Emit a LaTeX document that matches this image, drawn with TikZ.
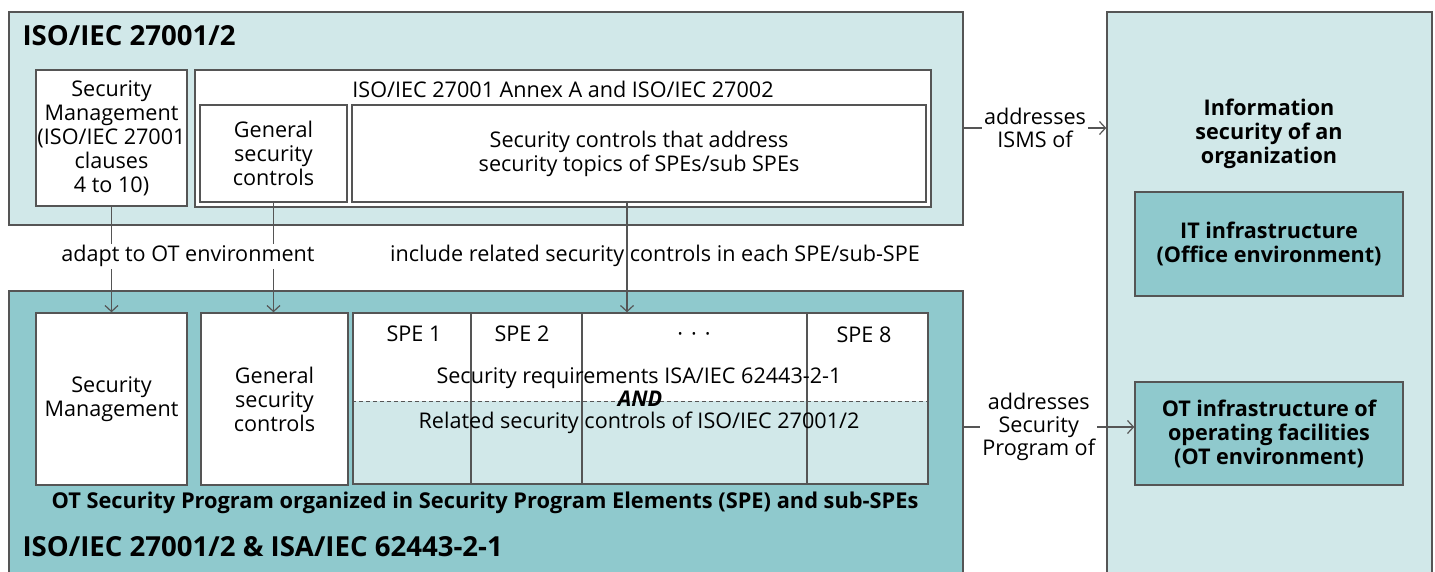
\documentclass[tikz,border=0pt]{standalone}
\usepackage{fontspec}
\setmainfont{Open Sans}
\usetikzlibrary{arrows.meta, fit, positioning}

\definecolor{tealLight}{HTML}{D1E8E9}
\definecolor{tealDark}{HTML}{8FC9CD}
\definecolor{edgeGray}{HTML}{555555}

\begin{document}
\begin{tikzpicture}[
            x = 0.5pt, y = -0.5pt, % one unit = one pixel of the layout
            > = {Straight Barb[length=3pt,width=6.5pt]}, % arrow head style
            semithick % line style
        ]

        \tikzstyle{frame}=[
            draw = edgeGray,
            line width = 0.7pt,
            inner sep = 0pt
        ]
        \tikzstyle{box}=[frame, fill = white]
        \tikzstyle{infra}=[frame, fill = tealDark]
        \tikzstyle{boxtext}=[align = center, inner sep = 0pt, font = \fontsize{10.8}{12}\selectfont]
        \tikzstyle{infratext}=[align = center, inner sep = 0pt, font = \bfseries\fontsize{10.8}{12}\selectfont]
        \tikzstyle{title}=[anchor = base west, inner sep = 0pt, font = \bfseries\fontsize{13.8}{16}\selectfont]
        \tikzstyle{txt}=[align = center, inner sep = 1pt, font = \fontsize{10.8}{11.4}\selectfont]
        \tikzstyle{arr}=[->, draw = edgeGray, line width = 0.6pt]

	\clip (0,0) rectangle (1435,572);

	% ISO/IEC 27001/2
	\node[frame, fill = tealLight, fit = {(9,12) (963,225)}] (iso) {};
	\node[title] (isotitle) at (22,46) {ISO/IEC 27001/2};
	\node[box, fit = {(36,70) (187,206)},
	      label = {[boxtext]center:Security\\Management\\(ISO/IEC 27001\\clauses\\4 to 10)}] (smtop) {};
	\node[box, fit = {(195,70) (931,207)}] (annex) {};
	\node[txt, anchor = base] (annextitle) at (563,98) {ISO/IEC 27001 Annex A and ISO/IEC 27002};
	\node[box, fit = {(200,105) (347,202)},
	      label = {[boxtext]center:General\\security\\controls}] (gsctop) {};
	\node[box, fit = {(352,105) (926,202)},
	      label = {[boxtext]center:Security controls that address\\security topics of SPEs/sub SPEs}] (secctl) {};

	% ISO/IEC 27001/2 & ISA/IEC 62443-2-1
	\node[frame, fill = tealDark, fit = {(9,291) (963,600)}] (ot) {};
	\node[box, fit = {(36,313) (187,485)},
	      label = {[boxtext]center:Security\\Management}] (smbot) {};
	\node[box, fit = {(201,313) (348,485)},
	      label = {[boxtext]center:General\\security\\controls}] (gscbot) {};
	\node[box, fit = {(353,313) (928,484)},
	      path picture = {\fill[tealLight] ([yshift=-1.25pt]path picture bounding box.west) rectangle (path picture bounding box.south east);}] (spe) {};
	\draw[edgeGray, line width = 0.5pt, dash pattern = on 2pt off 1.5pt] (spe.west |- 0,401) -- (spe.east |- 0,401);
	\foreach \x in {471,582,807}
	    \draw[edgeGray, line width = 0.6pt] (\x,0 |- spe.north) -- (\x,0 |- spe.south);
	\node[txt, anchor = base] (spe1) at (414,342) {SPE 1};
	\node[txt, anchor = base] (spe2) at (522,342) {SPE 2};
	\node[txt, anchor = base] (spedots) at (694,342) {·\hspace{4pt}·\hspace{4pt}·};
	\node[txt, anchor = base] (spe8) at (864,343) {SPE 8};
	\node[txt, anchor = base] (req) at (639,383) {Security requirements ISA/IEC 62443-2-1};
	\node[txt, anchor = base, font = \bfseries\itshape\fontsize{10.8}{12}\selectfont] (and) at (640,406) {AND};
	\node[txt, anchor = base] (rel) at (639,428) {Related security controls of ISO/IEC 27001/2};
	\node[anchor = base, inner sep = 0pt, font = \bfseries\fontsize{10.9}{12}\selectfont] (otprog) at (485,508) {OT Security Program organized in Security Program Elements (SPE) and sub-SPEs};
	\node[title] (ottitle) at (22,556) {ISO/IEC 27001/2 \& ISA/IEC 62443-2-1};

	% organization
	\node[frame, fill = tealLight, fit = {(1107,12) (1432,600)}] (org) {};
	\node[infratext] (orgtitle) at (1269,134) {Information\\security of an\\organization};
	\node[infra, fit = {(1135,192) (1403,296)},
	      label = {[infratext]center:IT infrastructure\\(Office environment)}] (it) {};
	\node[infra, fit = {(1135,382) (1403,485)},
	      label = {[infratext]center:OT infrastructure of\\operating facilities\\(OT environment)}] (otinfra) {};

	% connectors
	\draw[arr] ([yshift=-4.75pt]iso.east) -- ([yshift=-4.75pt]iso.east -| org.west)
	    node[txt, fill = white, midway] (isms) {addresses\\ISMS of};
	\draw[arr] ([yshift=3.25pt]otinfra.west -| ot.east) -- ([yshift=3.25pt]otinfra.west)
	    node[txt, fill = white, pos = 0.44] (prog) {addresses\\Security\\Program of};
	\draw[arr] (smtop.south) -- (smbot.north);
	\draw[arr] (gsctop.south) -- (gsctop.south |- gscbot.north);
	\draw[arr] ([xshift=-6pt]secctl.south) -- ([xshift=-6pt]secctl.south |- spe.north);
	\node[txt, fill = white, anchor = base] (adapt) at (188,262) {adapt to OT environment};
	\node[txt, anchor = base] (include) at (655,262) {include related security controls in each SPE/sub-SPE};

\end{tikzpicture}
\end{document}
